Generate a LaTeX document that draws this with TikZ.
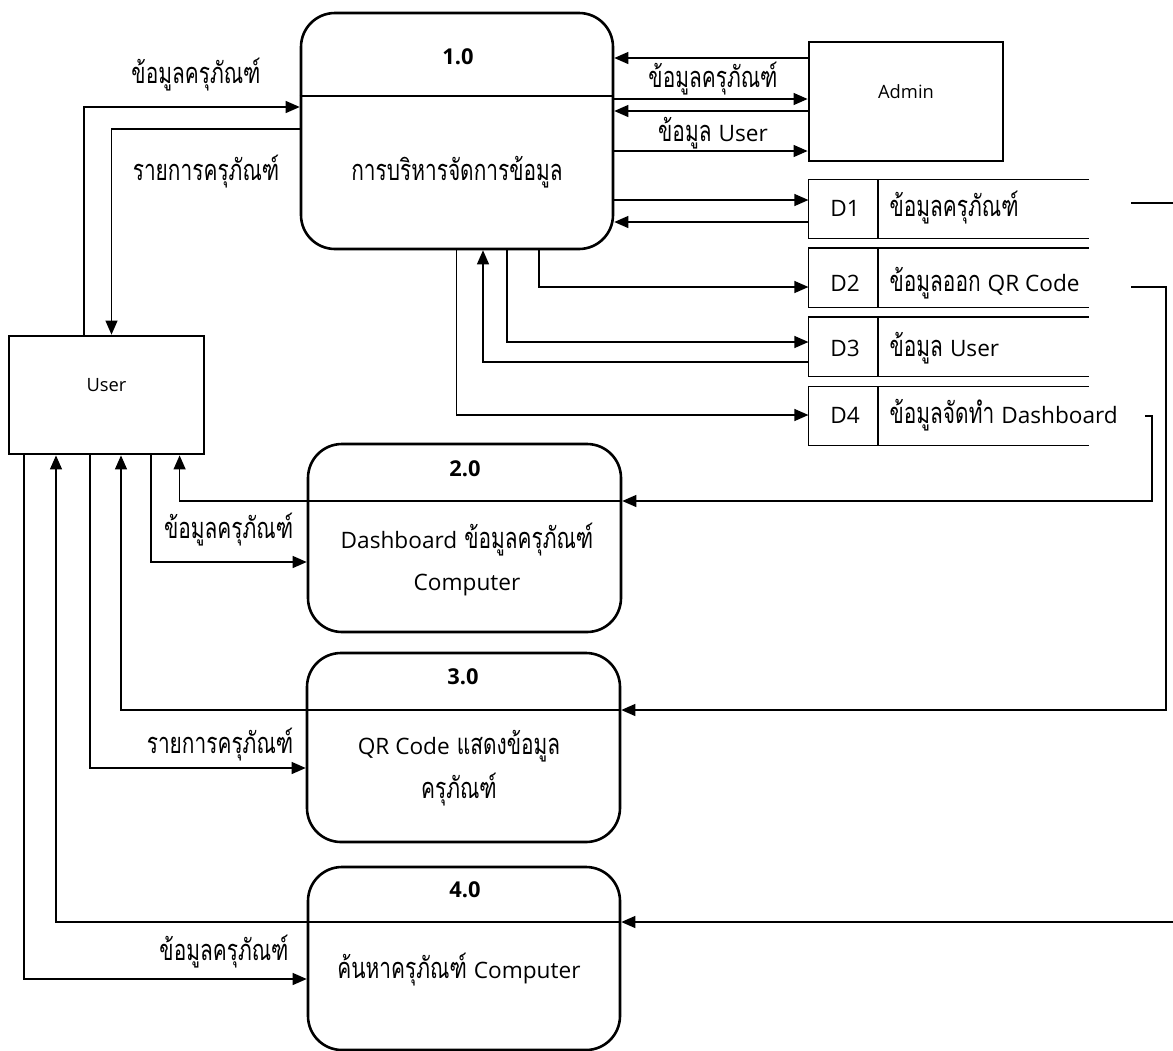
\documentclass[tikz,border=0pt]{standalone}
\usepackage{fontspec}
\setmainfont{Loma}[Script=Thai,FakeStretch=0.72]
\newfontfamily\latinfont{Open Sans}[Scale=0.78]
\newcommand\eng[1]{{\latinfont #1}}
\usetikzlibrary{arrows.meta}

\tikzset{
  proc/.style 2 args={draw,line width=2.6pt,rounded corners=34pt,minimum width=#1,minimum height=#2},
  ent/.style 2 args={draw,line width=2.8pt,minimum width=#1,minimum height=#2},
  store/.style={minimum width=279pt,minimum height=58pt},
  num/.style={font=\fontsize{28}{32}\selectfont\latinfont\bfseries},
  small/.style={font=\fontsize{23.5}{28}\selectfont\latinfont}
}

\begin{document}
\begin{tikzpicture}[x=1pt,y=-1pt,>={Triangle[length=14pt,width=12pt]},line width=1.2pt,
  every node/.style={inner sep=0pt,font=\fontsize{29}{34}\selectfont}]
  \useasboundingbox (0,0) rectangle (1173,1050);
  \clip (0,0) rectangle (1173,1050);

  % processes
  \node[proc={312pt}{236pt}] (p1) at (457,131) {};
  \node[num] (p1n) at (458,57) {1.0};
  \node (p1t) at (457,172) {การบริหารจัดการข้อมูล};
  \draw (p1.west |- 0,96) -- (p1.east |- 0,96);

  \node[proc={313pt}{188pt}] (p2) at (464.5,538) {};
  \node[num] (p2n) at (465,469) {2.0};
  \node (p2t) at (467,540) {\eng{Dashboard} ข้อมูลครุภัณฑ์};
  \node (p2u) at (467,585) {\eng{Computer}};

  \node[proc={313pt}{189pt}] (p3) at (463.5,747.5) {};
  \node[num] (p3n) at (463,677) {3.0};
  \node (p3t) at (459,746) {\eng{QR Code} แสดงข้อมูล};
  \node (p3u) at (459,790) {ครุภัณฑ์};

  \node[proc={312pt}{183pt}] (p4) at (464,958.5) {};
  \node[num] (p4n) at (465,890) {4.0};
  \node (p4t) at (459,970) {ค้นหาครุภัณฑ์ \eng{Computer}};

  % external entities
  \node[ent={195pt}{118pt},label={[small,yshift=10pt]center:User}] (user) at (106.5,395) {};
  \node[ent={194pt}{119pt},label={[small,yshift=10pt]center:Admin}] (admin) at (906,101.5) {};

  % data stores
  \foreach \s/\y/\ty/\id/\txt in {d1/209/208/D1/ข้อมูลครุภัณฑ์,
      d2/277.5/283/D2/ข้อมูลออก \eng{QR Code},
      d3/346.5/348/D3/ข้อมูล \eng{User},
      d4/416/415/D4/ข้อมูลจัดทำ \eng{Dashboard}}{
    \node[store] (\s) at (948.5,\y) {};
    \draw (\s.north east) -- (\s.north west) -- (\s.south west) -- (\s.south east);
    \draw (\s.north -| 878,0) -- (\s.south -| 878,0);
    \node (\s id) at (845,\ty) {\eng{\id}};
    \node[anchor=west] (\s txt) at (889,\ty) {\txt};
  }
  \coordinate (d1out) at (1131,203);
  \coordinate (d2out) at (1131,287);

  % flows user <-> 1.0
  \draw[->] (user.north -| 84,0) |- (p1.west |- 0,107);
  \node (f1) at (196,75) {ข้อมูลครุภัณฑ์};
  \draw[->] (p1.west |- 0,129) -| (user.north -| 111.5,0);
  \node (f2) at (206,172) {รายการครุภัณฑ์};

  % flows admin <-> 1.0
  \draw[->] (admin.west |- 0,58) -- (p1.east |- 0,58);
  \draw[->] (p1.east |- 0,99) -- (admin.west |- 0,99);
  \node (f3) at (713,79) {ข้อมูลครุภัณฑ์};
  \draw[->] (admin.west |- 0,111) -- (p1.east |- 0,111);
  \draw[->] (p1.east |- 0,151) -- (admin.west |- 0,151);
  \node (f4) at (713,133) {ข้อมูล \eng{User}};

  % flows 1.0 <-> stores
  \draw[->] (p1.east |- 0,200) -- (d1.west |- 0,200);
  \draw[->] (d1.west |- 0,222) -- (p1.east |- 0,222);
  \draw[->] (p1.south -| 539,0) |- (d2.west |- 0,287);
  \draw[->] (p1.south -| 507,0) |- (d3.west |- 0,342);
  \draw[->] (d3.west |- 0,362) -| (p1.south -| 483,0);
  \draw[->] (p1.south -| 456.5,0) |- (d4.west |- 0,415);

  % stores -> processes
  \draw[->] (d4.east -| 1145,0) -- (d4.east -| 1152,0) |- (p2.east |- 0,501);
  \draw[->] (d2out) -- (d2out -| 1166,0) |- (p3.east |- 0,710);
  \draw[->] (d1out) -- (d1out -| 1190,0) |- (p4.east |- 0,922);

  % flows user <-> 2.0, 3.0, 4.0
  \draw (p2.west |- 0,501) -- (p2.east |- 0,501);
  \draw[->] (p2.west |- 0,501) -| (user.south -| 179.6,0);
  \draw[->] (user.south -| 151,0) |- (p2.west |- 0,562);
  \node (f5) at (228.6,530) {ข้อมูลครุภัณฑ์};

  \draw (p3.west |- 0,710) -- (p3.east |- 0,710);
  \draw[->] (p3.west |- 0,710) -| (user.south -| 121,0);
  \draw[->] (user.south -| 90,0) |- (p3.west |- 0,768);
  \node (f6) at (220,745) {รายการครุภัณฑ์};

  \draw (p4.west |- 0,922) -- (p4.east |- 0,922);
  \draw[->] (p4.west |- 0,922) -| (user.south -| 56,0);
  \draw[->] (user.south -| 24,0) |- (p4.west |- 0,979);
  \node (f7) at (224,952) {ข้อมูลครุภัณฑ์};
\end{tikzpicture}
\end{document}
